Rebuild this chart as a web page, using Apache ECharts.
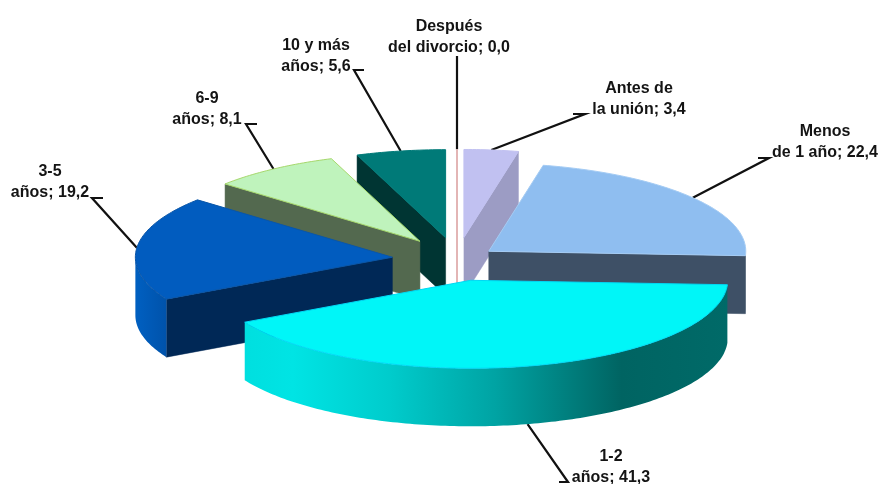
<!DOCTYPE html>
<html>
<head>
<meta charset="utf-8">
<style>html,body{margin:0;padding:0;background:#fff}#c{width:880px;height:484px}</style>
<script src="https://cdn.jsdelivr.net/npm/echarts@6/dist/echarts.min.js"></script>
</head>
<body>
<div id="c"></div>
<script>
// Data (clockwise from 12 o'clock)
var categories = ['Después\ndel divorcio', 'Antes de\nla unión', 'Menos\nde 1 año', '1-2\naños', '3-5\naños', '6-9\naños', '10 y más\naños'];
var values = [0.0, 3.4, 22.4, 41.3, 19.2, 8.1, 5.6];

// Styling and layout
var topColors  = ['#e3b5b5', '#c1c1f1', '#8fbef0', '#00f6f8', '#015cbf', '#bff3bc', '#007a78'];
var edgeColors = ['#e3b5b5', '#c1c1f1', '#a5ccf4', '#00d8f4', '#0a56a8', '#a6d86c', '#007a78'];
var sideColors = ['#e3b5b5', '#9c9cc4', '#3e5066', '#006462', '#002856', '#53694f', '#003533'];
var explode    = [65, 65, 40, 62, 65, 65, 65];
var drawOrder  = [1, 0, 6, 5, 4, 2, 3];
var labelCenters = [[449,36.5],[639,98.5],[825,142],[611,467],[50,182],[207,108.5],[316,56]];
var labelElbows = [
  [[457,56]],
  [[585,114],[573,114]],
  [[769,158],[758,158]],
  [[568,482],[559,482]],
  [[92,198],[103,198]],
  [[246,124],[257,124]],
  [[354,70],[364,70]]
];
var CX = 457, CY = 259.6, RX = 257, RY = 88, DEPTH = 58;

var total = values.reduce(function(a,b){return a+b;},0);
var starts = [], ends = [], acc = 0;
values.forEach(function(v){ starts.push(acc/total*360); acc += v; ends.push(acc/total*360); });
var rad = function(d){ return d*Math.PI/180; };
function apex(i){
  var m = rad((starts[i]+ends[i])/2);
  return [CX + explode[i]*Math.sin(m), CY - explode[i]*RY/RX*Math.cos(m)];
}
function rimPt(a, deg, dy){ return [a[0]+RX*Math.sin(rad(deg)), a[1]-RY*Math.cos(rad(deg))+(dy||0)]; }
function arcPts(a, from, to, dy){
  var pts = [], n = Math.max(2, Math.ceil(Math.abs(to-from)));
  for (var k=0;k<=n;k++) pts.push(rimPt(a,from+(to-from)*k/n,dy));
  return pts;
}
function rimFill(i){
  if (i === 3) return new echarts.graphic.LinearGradient(244,0,728,0,[
    {offset:0,color:'#00dfdf'},{offset:0.1,color:'#00e4e4'},{offset:0.3,color:'#00cccc'},
    {offset:0.52,color:'#00a3a3'},{offset:0.78,color:'#006462'},{offset:1,color:'#006a68'}],true);
  if (i === 4) return new echarts.graphic.LinearGradient(137,0,167,0,[
    {offset:0,color:'#005fc0'},{offset:1,color:'#0052aa'}],true);
  return sideColors[i];
}
function renderSlice(params){
  var i = drawOrder[params.dataIndex], a = apex(i), s = starts[i], e = ends[i], kids = [];
  if (values[i] === 0) {
    kids.push({type:'line', shape:{x1:a[0],y1:a[1]-RY,x2:a[0],y2:a[1]+DEPTH},
      style:{stroke:topColors[i],lineWidth:2,fill:null}});
    return {type:'group',children:kids};
  }
  function cut(deg){
    var p = rimPt(a,deg);
    kids.push({type:'polygon',shape:{points:[a,p,[p[0],p[1]+DEPTH],[a[0],a[1]+DEPTH]]},
      style:{fill:sideColors[i],stroke:sideColors[i],lineWidth:0.5}});
  }
  if (Math.sin(rad(s)) < 0) cut(s);
  if (Math.sin(rad(e)) > 0) cut(e);
  var r0 = Math.max(s,90), r1 = Math.min(e,270);
  if (r1 > r0) {
    kids.push({type:'polygon',shape:{points:arcPts(a,r0,r1,0).concat(arcPts(a,r1,r0,DEPTH))},
      style:{fill:rimFill(i)}});
  }
  kids.push({type:'polygon',shape:{points:[a].concat(arcPts(a,s,e,0))},
    style:{fill:topColors[i],stroke:edgeColors[i],lineWidth:1,lineJoin:'round'}});
  return {type:'group',children:kids};
}
function renderLabel(params){
  var i = params.dataIndex, a = apex(i), m = (starts[i]+ends[i])/2;
  var front = m > 90 && m < 270;
  var pts = [rimPt(a,m,front?DEPTH:0)].concat(labelElbows[i]);
  var txt = categories[i] + '; ' + values[i].toFixed(1).replace('.',',');
  return {type:'group',children:[
    {type:'polyline',shape:{points:pts},style:{stroke:'#111',lineWidth:2.2,fill:null}},
    {type:'text',x:labelCenters[i][0],y:labelCenters[i][1],scaleY:1.07,
      style:{text:txt,x:0,y:0,align:'center',verticalAlign:'middle',
      fontFamily:'"Liberation Sans",Arial,sans-serif',fontWeight:'bold',fontSize:16,lineHeight:20,fill:'#141414'}}
  ]};
}
var chart = echarts.init(document.getElementById('c'),null,{renderer:'canvas'});
chart.setOption({
  animation:false,
  backgroundColor:'#fff',
  series:[
    {type:'custom',coordinateSystem:'none',silent:true,renderItem:renderSlice,
     data:drawOrder.map(function(i){return [values[i]];}),z:2},
    {type:'custom',coordinateSystem:'none',silent:true,renderItem:renderLabel,
     data:values.map(function(v){return [v];}),z:1}
  ]
});
</script>
</body>
</html>
